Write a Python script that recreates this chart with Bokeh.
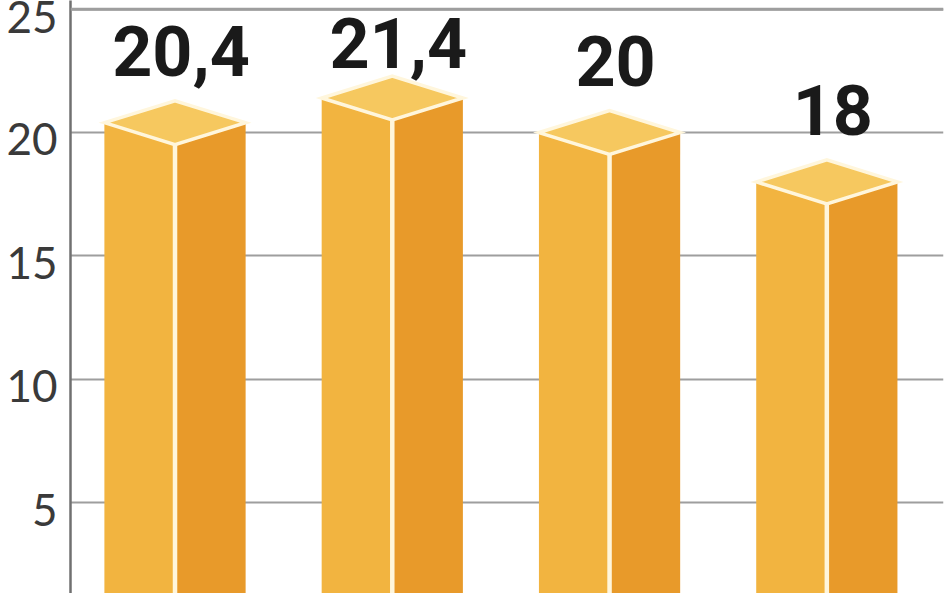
import numpy as np
from bokeh.plotting import figure
from bokeh.models import Range1d, FixedTicker, LinearAxis, ColumnDataSource, Span
from bokeh.core.properties import value
from bokeh.embed import file_html
from bokeh.resources import INLINE

# ---- data ----
categories = ["A", "B", "C", "D"]
values = [20.4, 21.4, 20.0, 18.0]
value_labels = ["20,4", "21,4", "20", "18"]
y_ticks = [5, 10, 15, 20, 25]

# ---- style ----
FRONT = "#F2B440"
SIDE = "#E89A2A"
TOP = "#F6C85F"
EDGE = "#FFF6DC"
GRID = "#9E9E9E"
HALF_W = 0.325      # half bar width (x units)
DEPTH = 0.89        # isometric depth of top face (y units)
LABEL_SHIFT = 0.28  # tick labels sit slightly below their grid line

X0, X1 = 0.519, 4.537
Y0, Y1 = 1.316, 25.353
p = figure(width=948, height=593, output_backend="svg", toolbar_location=None,
           title=None,
           x_range=Range1d(X0, X1), y_range=Range1d(Y0, Y1),
           min_border_left=70, min_border_right=5, min_border_top=0, min_border_bottom=0)
p.extra_y_ranges = {"lab": Range1d(Y0 + LABEL_SHIFT, Y1 + LABEL_SHIFT)}
p.outline_line_color = None
p.background_fill_color = "white"
p.border_fill_color = "white"
p.xaxis.visible = False
p.xgrid.visible = False
p.yaxis.visible = False

ax = LinearAxis(y_range_name="lab", ticker=FixedTicker(ticks=y_ticks))
ax.axis_line_color = "#707070"
ax.axis_line_width = 2.5
ax.major_tick_line_color = None
ax.minor_tick_line_color = None
ax.major_tick_out = 0
ax.major_tick_in = 0
ax.major_label_standoff = 13
ax.major_label_text_font = "Lato"
ax.major_label_text_font_size = "44px"
ax.major_label_text_color = "#3A3A3A"
p.add_layout(ax, "left")

p.ygrid.ticker = FixedTicker(ticks=y_ticks)
p.ygrid.grid_line_color = GRID
p.ygrid.grid_line_width = 2

# top reference line at the highest tick
p.add_layout(Span(location=max(y_ticks), dimension="width", line_color=GRID,
                  line_width=3, level="overlay"))

xs = np.arange(1, len(categories) + 1, dtype=float)
vals = np.array(values)

front_x, front_y, side_x, side_y, top_x, top_y, sep_x, sep_y = [], [], [], [], [], [], [], []
for c, v in zip(xs, vals):
    front_x.append([c - HALF_W, c - HALF_W, c, c])
    front_y.append([0, v, v - DEPTH, 0])
    side_x.append([c, c, c + HALF_W, c + HALF_W])
    side_y.append([0, v - DEPTH, v, 0])
    top_x.append([c - HALF_W, c, c + HALF_W, c])
    top_y.append([v, v - DEPTH, v, v + DEPTH])
    sep_x.append([c, c])
    sep_y.append([0, v - DEPTH])

p.patches(front_x, front_y, fill_color=FRONT, line_color=None)
p.patches(side_x, side_y, fill_color=SIDE, line_color=None)
p.multi_line(sep_x, sep_y, line_color=EDGE, line_width=4.5)
p.patches(top_x, top_y, fill_color=TOP, line_color=EDGE, line_width=3.5,
          line_join="miter")

lab_src = ColumnDataSource(dict(x=xs, y=np.minimum(vals + 1.85, 22.6) + 1.05,
                                t=value_labels))
p.text(x="x", y="y", text="t", source=lab_src, text_font=value("Roboto"),
       text_font_style="bold", text_font_size="70px", text_color="#1A1A1A",
       text_align="center", text_baseline="alphabetic", x_offset=6)

open("out.html", "w").write(file_html(p, INLINE))
